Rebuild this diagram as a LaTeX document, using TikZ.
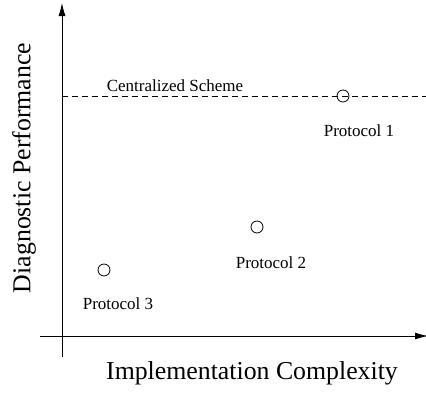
\documentclass[tikz,border=0pt]{standalone}
\usepackage{fontspec}
\setmainfont{Liberation Serif}
\usetikzlibrary{arrows.meta}
\begin{document}
\begin{tikzpicture}[x=1pt,y=-1pt,
  axis/.style={line width=0.8pt,-{Latex[length=13pt,width=7pt]}},
  pt/.style={circle,draw,line width=0.8pt,minimum size=12pt,inner sep=0pt},
  small/.style={font=\fontsize{17}{20}\selectfont,inner sep=0pt},
  big/.style={font=\fontsize{25.8}{30}\selectfont,inner sep=0pt}]
\useasboundingbox (0,0) rectangle (426,392);
\coordinate (xs) at (40,336);
\coordinate (xe) at (428,336);
\coordinate (ys) at (62,357);
\coordinate (ye) at (62,3);
\coordinate (ds) at (62,96);
\coordinate (de) at (426,96);
\draw[axis] (xs) -- (xe);
\draw[axis] (ys) -- (ye);
\draw[line width=0.8pt,dash pattern=on 6pt off 4pt] (ds) -- (de);
\node[pt] (p1) at (343,96) {};
\node[pt] (p2) at (257,227) {};
\node[pt] (p3) at (104,270) {};
\node[small] (cs) at (175,86) {Centralized Scheme};
\node[small] (l1) at (359,131) {Protocol 1};
\node[small] (l2) at (271,263) {Protocol 2};
\node[small] (l3) at (118,304) {Protocol 3};
\node[big] (xl) at (252,373) {Implementation Complexity};
\node[big,rotate=90] (yl) at (24,168) {Diagnostic Performance};
\end{tikzpicture}
\end{document}
